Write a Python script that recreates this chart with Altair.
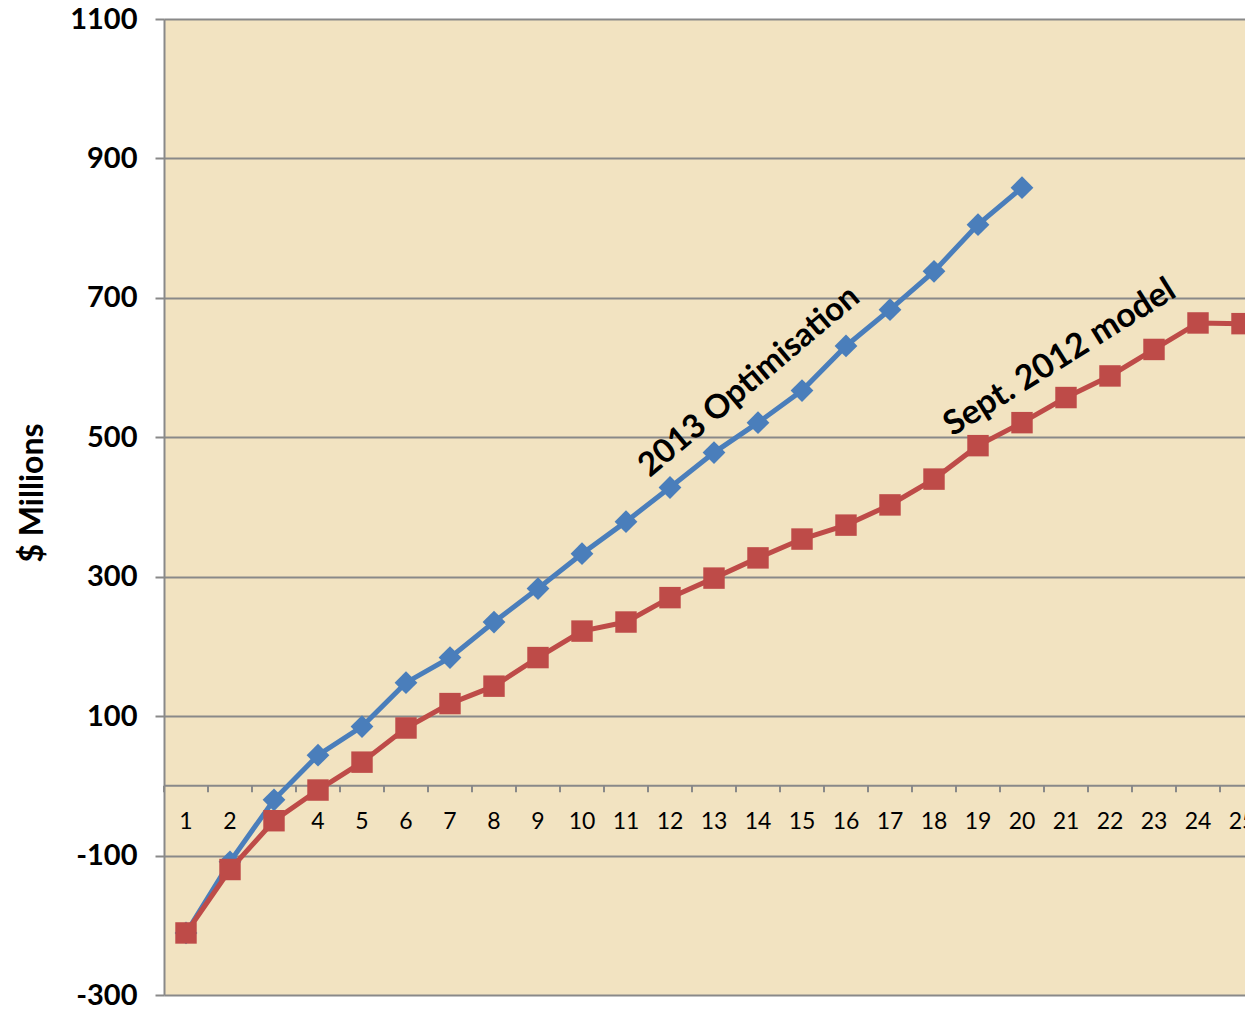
import altair as alt
import pandas as pd

periods = list(range(1, 26))
opt_2013 = [-211, -109, -20, 44, 85, 148, 184, 235, 283, 333, 379, 428, 478, 521, 567, 631, 683, 738, 805, 858]
model_2012 = [-211, -120, -50, -6, 34, 83, 118, 143, 184, 222, 235, 270, 298, 327, 354, 374, 403, 440, 488, 521, 557, 588, 626, 664, 663]
y_ticks = [-300, -100, 100, 300, 500, 700, 900, 1100]

blue_df = pd.DataFrame({"period": periods[:len(opt_2013)], "value": opt_2013})
red_df = pd.DataFrame({"period": periods, "value": model_2012})
lab_df = pd.DataFrame({"period": periods, "label": [str(p) for p in periods]})
tick_df = pd.DataFrame({"b": [p - 0.5 for p in periods]})

FONT = "Lato"
BLUE = "#4A7EBB"
RED = "#BE4B48"
GRID = "#898989"

xs = alt.Scale(domain=[0.5, 0.5 + 1081 / 44], nice=False, zero=False)
ys = alt.Scale(domain=[-300, 1100], nice=False, zero=False)

base_axis = alt.Axis(
    values=y_ticks, labelExpr="'' + datum.value", labelFont=FONT, labelFontSize=29,
    labelFontWeight="bold", labelColor="black", labelPadding=18, tickSize=9,
    tickColor=GRID, tickWidth=2, domainColor=GRID, domainWidth=2, grid=True,
    gridColor=GRID, gridWidth=2, title=None, labelFlush=False,
)

grid_layer = alt.Chart(red_df).mark_point(opacity=0).encode(
    x=alt.X("period:Q", scale=xs, axis=None),
    y=alt.Y("value:Q", scale=ys, axis=base_axis),
)

zero_line = alt.Chart(pd.DataFrame({"v": [0]})).mark_rule(color=GRID, strokeWidth=2).encode(
    y=alt.Y("v:Q", scale=ys),
)

ticks = alt.Chart(tick_df).mark_rule(color=GRID, strokeWidth=2).encode(
    x=alt.X("b:Q", scale=xs),
    y=alt.datum(0),
    y2=alt.datum(-9),
)

xlabels = alt.Chart(lab_df).mark_text(
    font=FONT, fontSize=23, color="black", baseline="middle", align="center", dy=36
).encode(
    x=alt.X("period:Q", scale=xs),
    y=alt.datum(0),
    text="label:N",
)

blue_line = alt.Chart(blue_df).mark_line(color=BLUE, strokeWidth=5).encode(
    x=alt.X("period:Q", scale=xs), y=alt.Y("value:Q", scale=ys)
)
blue_pts = alt.Chart(blue_df).mark_point(
    shape="diamond", filled=True, color=BLUE, size=520, opacity=1
).encode(x=alt.X("period:Q", scale=xs), y=alt.Y("value:Q", scale=ys))

red_line = alt.Chart(red_df).mark_line(color=RED, strokeWidth=5).encode(
    x=alt.X("period:Q", scale=xs), y=alt.Y("value:Q", scale=ys)
)
red_pts = alt.Chart(red_df).mark_point(
    shape="square", filled=True, color=RED, size=460, opacity=1
).encode(x=alt.X("period:Q", scale=xs), y=alt.Y("value:Q", scale=ys))

ann_blue = alt.Chart(pd.DataFrame({"t": ["2013 Optimisation"]})).mark_text(
    font=FONT, fontSize=33, fontWeight="bold", color="black", angle=320,
    align="center", baseline="middle",
).encode(x=alt.datum(13.8), y=alt.datum(580), text="t:N")

ann_red = alt.Chart(pd.DataFrame({"t": ["Sept. 2012 model"]})).mark_text(
    font=FONT, fontSize=34, fontWeight="bold", color="black", angle=328,
    align="center", baseline="middle",
).encode(x=alt.datum(20.86), y=alt.datum(614), text="t:N")

ytitle = alt.Chart(pd.DataFrame({"t": ["$ Millions"]})).mark_text(
    font=FONT, fontSize=32, fontWeight="bold", color="black", angle=270,
    align="center", baseline="middle",
).encode(x=alt.value(-131), y=alt.value(474), text="t:N")

chart = alt.layer(
    grid_layer, zero_line, ticks, xlabels, blue_line, blue_pts, red_line, red_pts,
    ann_blue, ann_red, ytitle,
).properties(
    width=1081, height=976,
    autosize=alt.AutoSizeParams(type="none"),
    padding={"left": 164, "top": 19, "right": 0, "bottom": 16},
).configure(background="white").configure_view(
    fill="#F2E3C1", stroke=None,
)

chart.save("out.html", embed_options={"renderer": "svg", "actions": False})
